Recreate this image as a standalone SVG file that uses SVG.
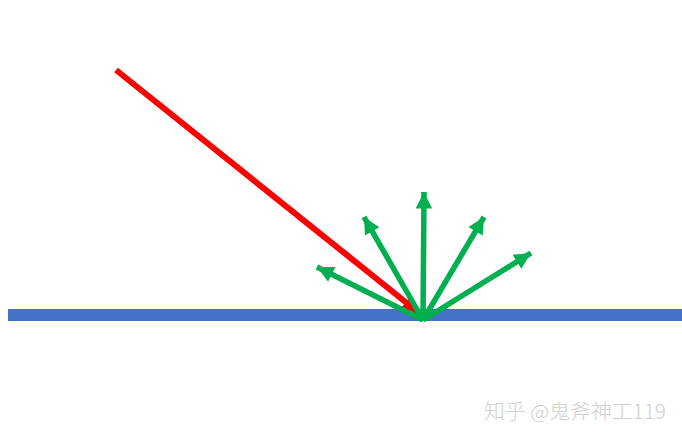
<svg xmlns="http://www.w3.org/2000/svg" width="682" height="441" viewBox="0 0 682 441">
<style>
.g{stroke:#00B050;stroke-width:5.5;fill:none}
.r{stroke:#FF0000;stroke-width:6;fill:none}
.wm{font-family:"Noto Sans CJK SC","Liberation Sans",sans-serif;font-size:20px;font-weight:300;fill:#cfcfcf}
</style>
<defs>
<marker id="ag" viewBox="0 0 10 10" refX="10" refY="5" markerWidth="3.3" markerHeight="3" orient="auto" markerUnits="strokeWidth"><path d="M0,0L10,5L0,10z" fill="#00B050"/></marker>
<marker id="ar" viewBox="0 0 10 10" refX="10" refY="5" markerWidth="3" markerHeight="2.6" orient="auto" markerUnits="strokeWidth"><path d="M0,0L10,5L0,10z" fill="#FF0000"/></marker>
</defs>
<rect width="682" height="441" fill="#fff"/>
<g id="surface"><rect x="8" y="309" width="674" height="12" fill="#4472C4"/></g>
<g id="connectors">
<line class="r" x1="116" y1="70" x2="418" y2="312" marker-end="url(#ar)"/>
<line class="g" x1="423" y1="320" x2="317" y2="267" marker-end="url(#ag)"/>
<line class="g" x1="423" y1="320" x2="364" y2="217" marker-end="url(#ag)"/>
<line class="g" x1="423" y1="320" x2="424" y2="192" marker-end="url(#ag)"/>
<line class="g" x1="423" y1="320" x2="484" y2="217" marker-end="url(#ag)"/>
<line class="g" x1="423" y1="320" x2="531" y2="253" marker-end="url(#ag)"/>
</g>
<g id="watermark"><text class="wm" x="484" y="419" textLength="182" lengthAdjust="spacingAndGlyphs">知乎 @鬼斧神工119</text></g>
</svg>
